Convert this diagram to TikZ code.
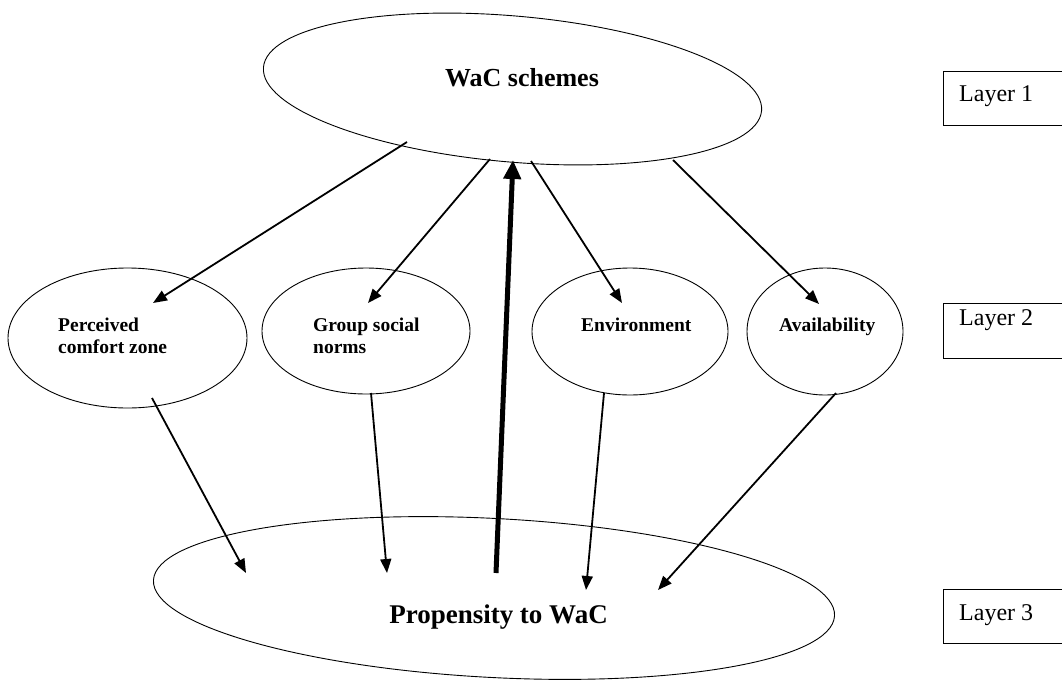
\documentclass[tikz,border=0pt]{standalone}
\usepackage{fontspec}
\setmainfont{Liberation Serif}
\usetikzlibrary{shapes.geometric,arrows.meta}
\begin{document}
\begin{tikzpicture}[x=1pt,y=-1pt,
  ell/.style={draw,ellipse,line width=0.9pt,inner sep=0pt},
  lbl/.style={anchor=base west,inner sep=0pt,font=\bfseries\fontsize{19.5}{22}\selectfont,align=left},
  layerbox/.style={draw,line width=1.1pt,anchor=north west,inner sep=0pt},
  layertxt/.style={anchor=base west,inner sep=0pt,font=\fontsize{24}{26}\selectfont},
  arr/.style={line width=1.8pt,-{Triangle[length=14pt,width=11pt]}},
  bigarr/.style={line width=5pt,-{Triangle[length=19pt,width=17pt]}}]
\useasboundingbox (0,0) rectangle (1062,680);
% ellipses
\node[ell,rotate=-5,minimum width=500pt,minimum height=146pt] (top) at (512.5,89) {};
\node[ell,rotate=-3,minimum width=682pt,minimum height=159pt] (bot) at (494,598) {};
\node[ell,minimum width=239pt,minimum height=140pt] (pcz) at (127.5,338) {};
\node[ell,minimum width=208pt,minimum height=126pt] (gsn) at (366,331) {};
\node[ell,minimum width=196pt,minimum height=127pt] (env) at (630,331.5) {};
\node[ell,minimum width=156pt,minimum height=127pt] (ava) at (825,331.5) {};
% texts
\node[anchor=base,inner sep=0pt,font=\bfseries\fontsize{26}{30}\selectfont] (ttop) at (522,86) {WaC schemes};
\node[anchor=base,inner sep=0pt,font=\bfseries\fontsize{27}{30}\selectfont] (tbot) at (498.5,623) {Propensity to WaC};
\node[lbl] (tpcz) at (58,353) {Perceived\\comfort zone};
\node[lbl] (tgsn) at (313,353) {Group social\\norms};
\node[lbl] (tenv) at (581,331) {Environment};
\node[lbl] (tava) at (779,331) {Availability};
% layer boxes
\node[layerbox,minimum width=130pt,minimum height=54pt] (l1) at (943,71) {};
\node[layerbox,minimum width=130pt,minimum height=55pt] (l2) at (943,303) {};
\node[layerbox,minimum width=130pt,minimum height=54pt] (l3) at (943,589) {};
\node[layertxt] (t1) at (959,101) {Layer 1};
\node[layertxt] (t2) at (959,325) {Layer 2};
\node[layertxt] (t3) at (959,620) {Layer 3};
% arrow end points
\coordinate (s1) at (407,142);
\coordinate (e1) at (153,303);
\coordinate (s2) at (490,159);
\coordinate (e2) at (368,303);
\coordinate (s3) at (496,573);
\coordinate (e3) at (513,160);
\coordinate (s4) at (531,161);
\coordinate (e4) at (622,303);
\coordinate (s5) at (673,160);
\coordinate (e5) at (819,304);
\coordinate (s6) at (152,398);
\coordinate (e6) at (246,573);
\coordinate (s7) at (371,393);
\coordinate (e7) at (387,573);
\coordinate (s8) at (604,393);
\coordinate (e8) at (586,590);
\coordinate (s9) at (836,393);
\coordinate (e9) at (658,590);
% arrows
\draw[arr] (s1) -- (e1);
\draw[arr] (s2) -- (e2);
\draw[bigarr] (s3) -- (e3);
\draw[arr] (s4) -- (e4);
\draw[arr] (s5) -- (e5);
\draw[arr] (s6) -- (e6);
\draw[arr] (s7) -- (e7);
\draw[arr] (s8) -- (e8);
\draw[arr] (s9) -- (e9);
\end{tikzpicture}
\end{document}
